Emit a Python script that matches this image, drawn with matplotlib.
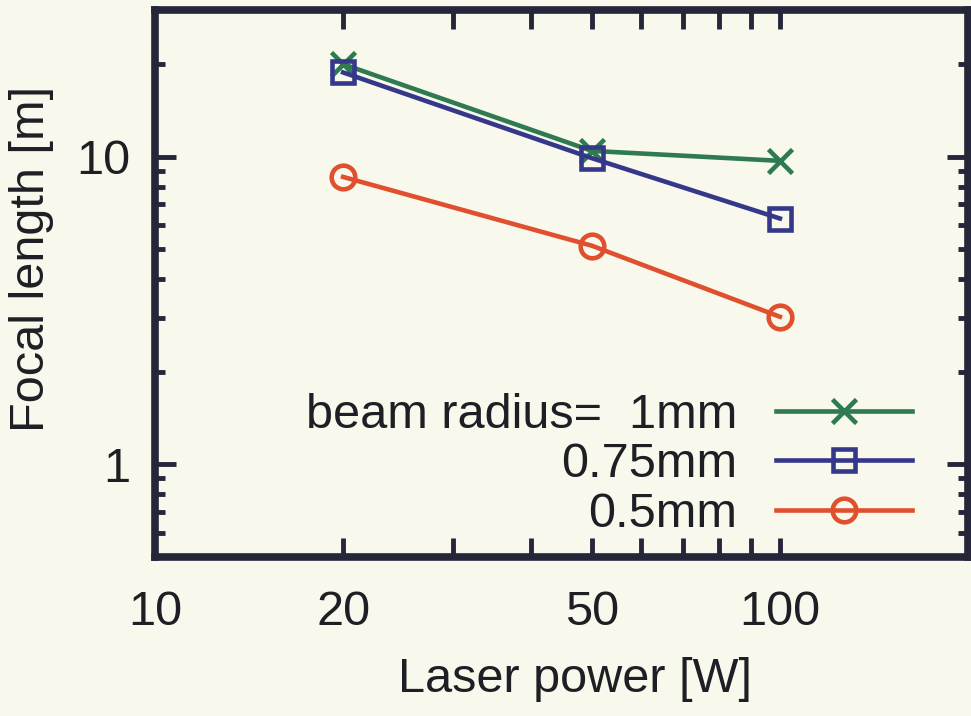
import matplotlib
matplotlib.use("Agg")
import matplotlib.pyplot as plt
from matplotlib.ticker import FixedLocator, FixedFormatter, LogLocator, NullFormatter

plt.rcParams['font.family'] = ['Liberation Sans', 'DejaVu Sans']

# Laser power [W] and focal length [m] for each beam radius
power = [20, 50, 100]
focal_1mm = [20.0, 10.45, 9.7]
focal_075mm = [18.8, 9.9, 6.3]
focal_05mm = [8.6, 5.14, 3.02]

labels = ["beam radius=  1mm", "0.75mm", "0.5mm"]
xtick_values = [10, 20, 50, 100]
xtick_labels = ["10", "20", "50", "100"]
ytick_values = [1, 10]
ytick_labels = ["1", "10"]

bg = "#f8f8ec"
ink = "#26263a"
text_ink = "#1e1e24"
green = "#2f7a50"
blue = "#35378a"
red = "#e0502e"

fig = plt.figure(figsize=(9.71, 7.16), dpi=100, facecolor=bg)
ax = fig.add_axes([155 / 971, 1 - 557 / 716, (968 - 155) / 971, (557 - 10) / 716])
ax.set_facecolor(bg)

fs = 35
ax.plot(power, focal_1mm, color=green, lw=3.3, marker="x", ms=17, mew=3.3, label=labels[0])
ax.plot(power, focal_075mm, color=blue, lw=3.3, marker="s", ms=16, mew=3.3,
        mfc="none", label=labels[1])
ax.plot(power, focal_05mm, color=red, lw=3.3, marker="o", ms=17, mew=3.3,
        mfc="none", label=labels[2])

ax.set_xscale("log")
ax.set_yscale("log")
ax.set_xlim(10, 200)
ax.set_ylim(0.5, 30)

# x ticks: labelled majors plus unlabelled marks at every tens value
ax.xaxis.set_major_locator(FixedLocator(xtick_values))
ax.xaxis.set_major_formatter(FixedFormatter(xtick_labels))
ax.xaxis.set_minor_locator(FixedLocator([30, 40, 60, 70, 80, 90]))
ax.xaxis.set_minor_formatter(NullFormatter())

ax.yaxis.set_major_locator(FixedLocator(ytick_values))
ax.yaxis.set_major_formatter(FixedFormatter(ytick_labels))
ax.yaxis.set_minor_locator(LogLocator(base=10, subs=range(2, 10)))
ax.yaxis.set_minor_formatter(NullFormatter())

ax.tick_params(axis="both", which="both", direction="in", color=ink, labelcolor=text_ink,
               top=True, right=True, labelsize=fs)
ax.tick_params(axis="x", which="both", length=14, width=3.5, pad=24)
ax.tick_params(axis="y", which="major", length=15, width=3.5, pad=18)
ax.tick_params(axis="y", which="minor", length=7.5, width=3.5)

for s in ax.spines.values():
    s.set_linewidth(5.5)
    s.set_color(ink)

ax.set_xlabel("Laser power [W]", fontsize=fs, color=text_ink)
ax.xaxis.set_label_coords(0.517, -0.182)
ax.set_ylabel("Focal length [m]", fontsize=fs, color=text_ink)
ax.yaxis.set_label_coords(-0.124, 0.545)

leg = ax.legend(loc="lower right", bbox_to_anchor=(0.931, 0.036), frameon=False,
                markerfirst=False, fontsize=fs, handlelength=2.8, handletextpad=0.8,
                labelspacing=0.1, borderpad=0, borderaxespad=0)
for t in leg.get_texts():
    t.set_color(text_ink)
# right-align each legend row so the labels end flush against the sample lines
for column in leg._legend_handle_box.get_children():
    column.align = "right"

fig.savefig("out.png", dpi=100, facecolor=bg)
